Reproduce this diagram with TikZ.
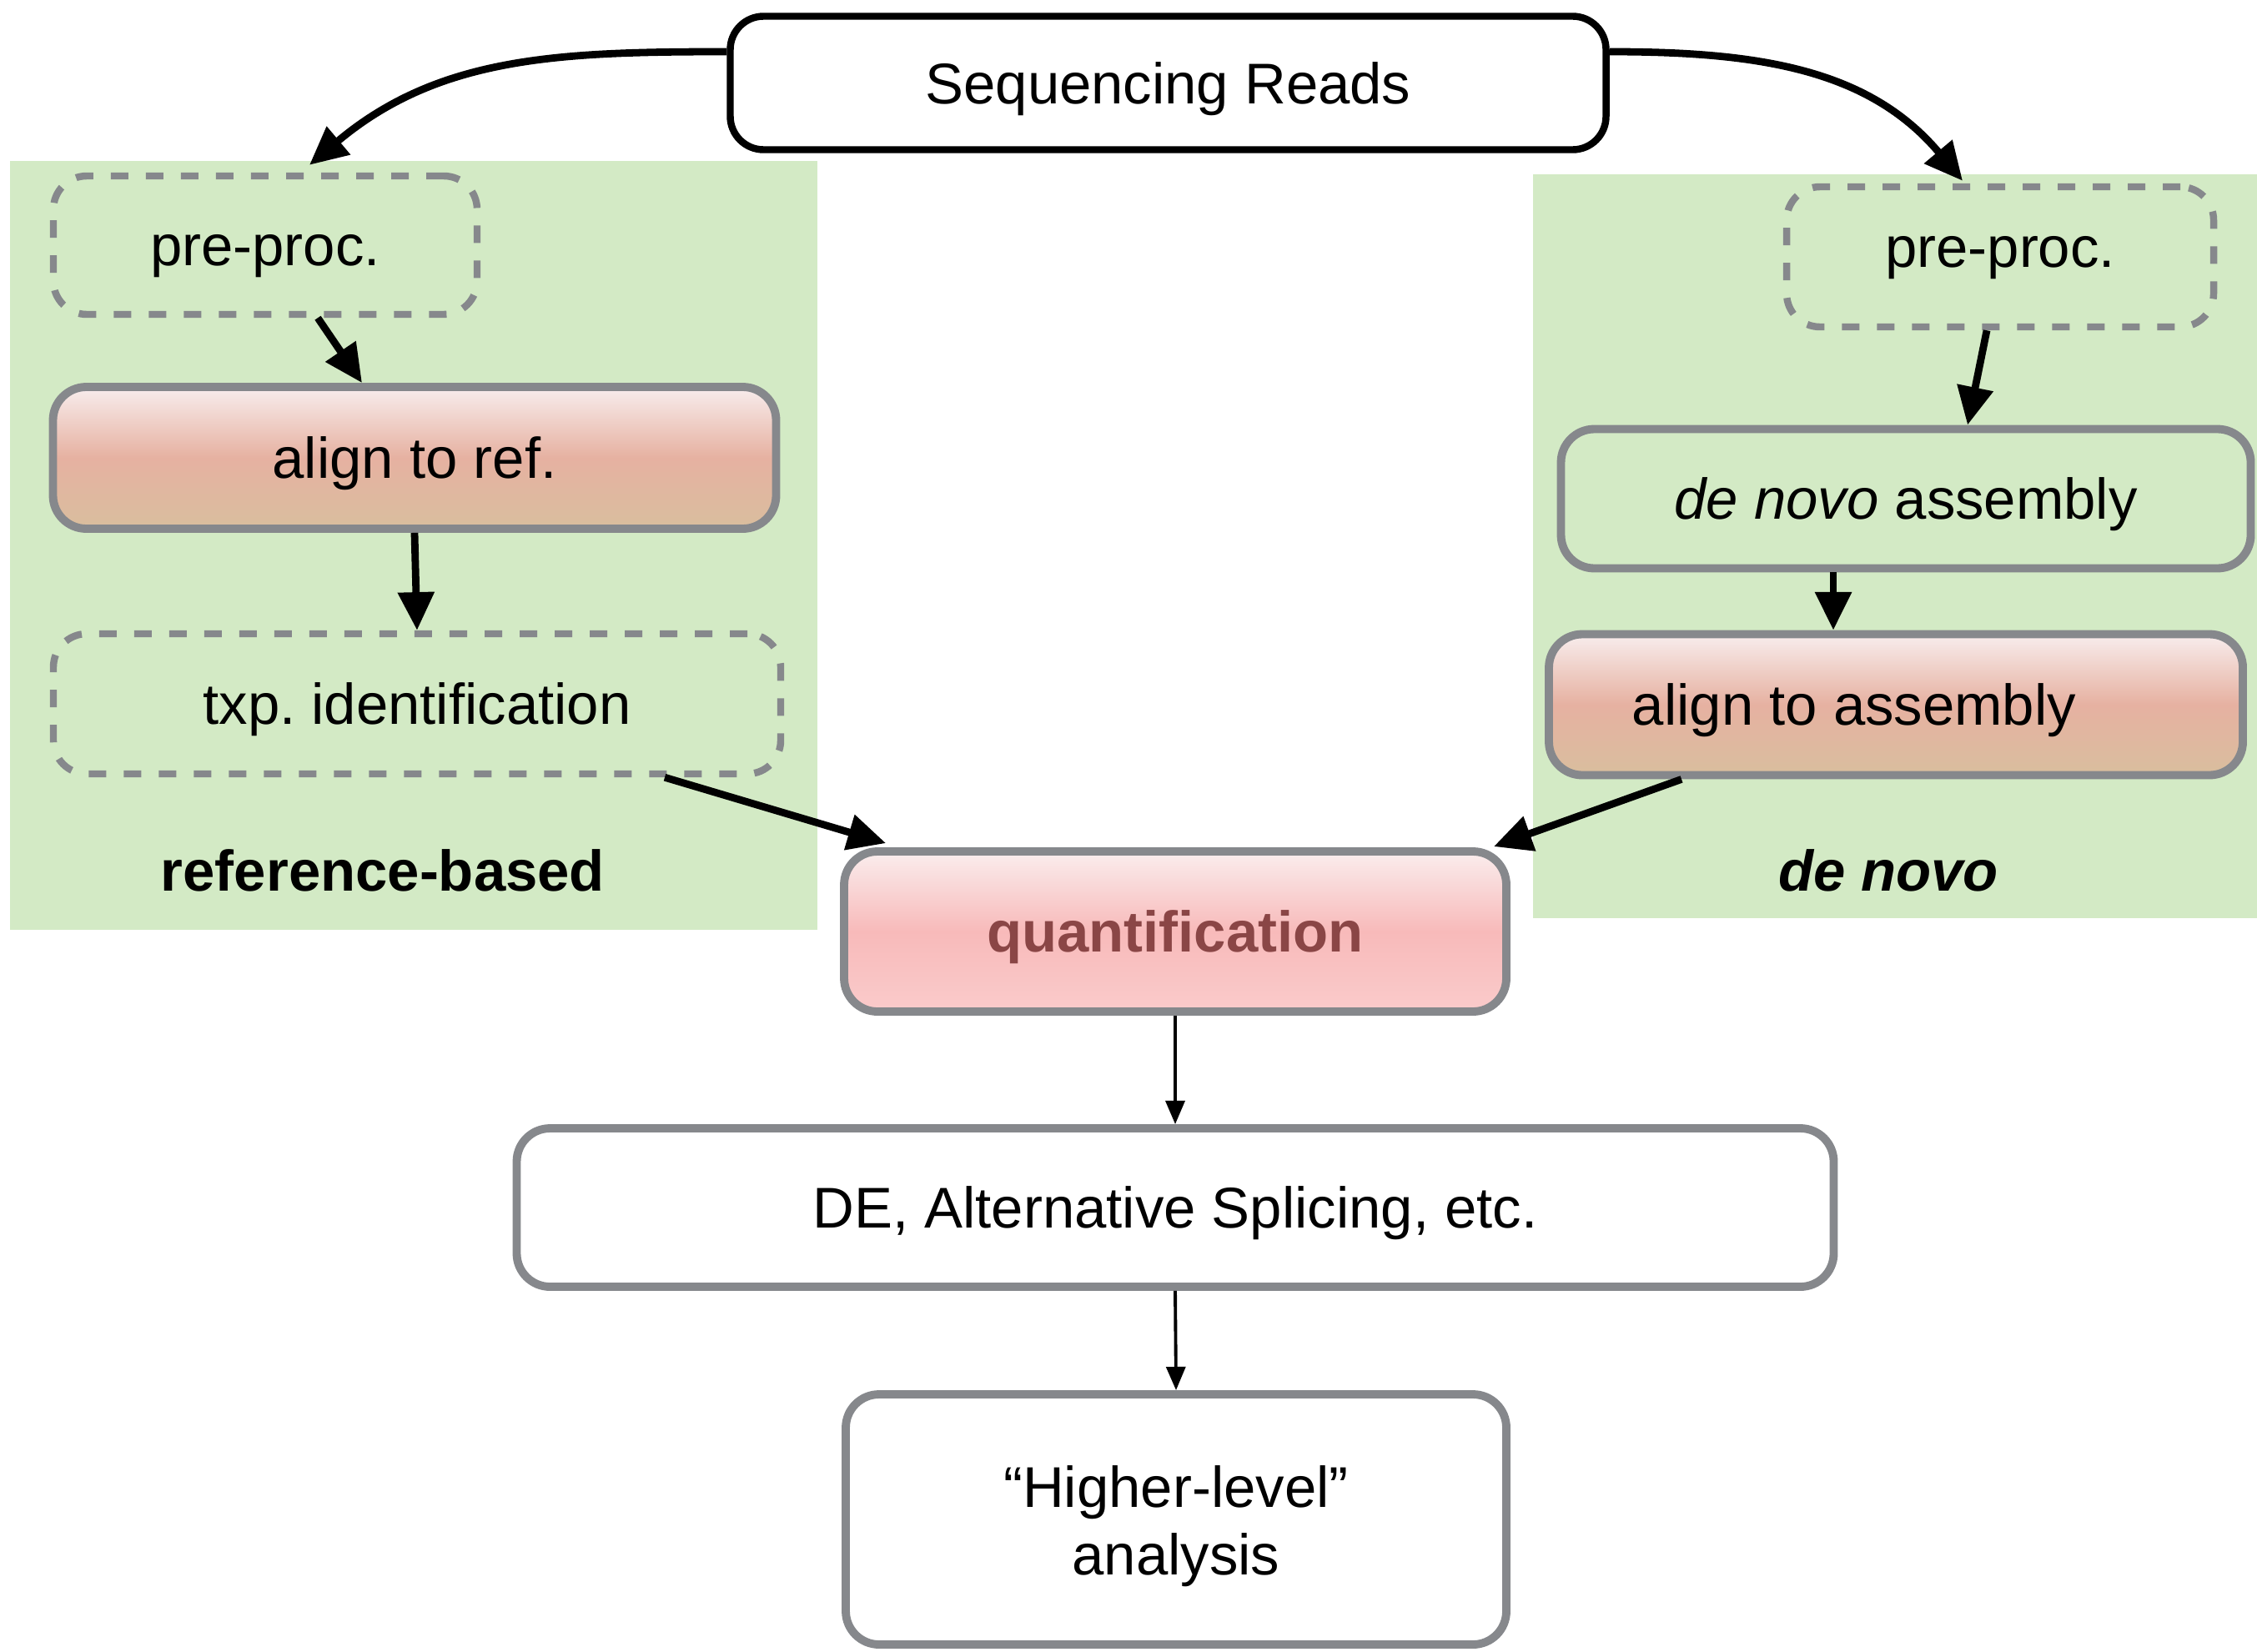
\documentclass[tikz,border=0pt]{standalone}
\usepackage{fontspec}
\setmainfont{Liberation Sans}
\frenchspacing
\usetikzlibrary{arrows.meta,calc}
\definecolor{panelgreen}{HTML}{D3EAC5}
\definecolor{boxgray}{HTML}{86888C}
\definecolor{alitop}{HTML}{F8EDED}
\definecolor{alimid}{HTML}{E6B1A1}
\definecolor{alibot}{HTML}{D9BE9E}
\definecolor{qtop}{HTML}{FAEDED}
\definecolor{qmid}{HTML}{F8BABA}
\definecolor{qbot}{HTML}{FACBCB}
\definecolor{qtext}{HTML}{8A4646}
\tikzset{
  txt/.style={font=\fontsize{19.6pt}{23pt}\selectfont, inner sep=0pt},
  boxtxt/.style={txt, text height=14pt, text depth=-1pt},
  blackbox/.style={boxtxt, draw=black, line width=2.4pt, rounded corners=0.4cm, fill=white},
  dashbox/.style={boxtxt, draw=boxgray, line width=2.4pt, rounded corners=0.4cm,
    dash pattern=on 0.21cm off 0.21cm},
  graybox/.style={boxtxt, draw=boxgray, line width=2.8pt, rounded corners=0.4cm},
  plainbox/.style={txt, draw=boxgray, line width=2.8pt, rounded corners=0.4cm},
  alibox/.style={graybox, top color=alitop, bottom color=alibot, middle color=alimid},
  qbox/.style={graybox, top color=qtop, bottom color=qbot, middle color=qmid},
  bigarrow/.style={line width=2.5pt, -{Triangle[length=13pt,width=12pt]}},
  thinarrow/.style={line width=1.1pt, -{Triangle[length=8pt,width=6.5pt]}},
  paneltitle/.style={txt, font=\fontsize{19.6pt}{23pt}\selectfont\bfseries}
}
\begin{document}
\begin{tikzpicture}
\path[use as bounding box] (0,0) rectangle (27.06,-19.80);
% panels
\fill[panelgreen] (0.12,-1.93) rectangle (9.80,-11.15);
\fill[panelgreen] (18.38,-2.09) rectangle (27.06,-11.01);

% nodes
\node[blackbox, minimum width=10.50cm, minimum height=1.60cm] (seq) at (14.005,-0.995) {Sequencing Reads};

\node[dashbox, minimum width=5.08cm, minimum height=1.66cm] (pl) at (3.18,-2.94) {pre-proc.};
\node[alibox, minimum width=8.67cm, minimum height=1.70cm] (ar) at (4.97,-5.49) {align to ref.};
\node[dashbox, minimum width=8.72cm, minimum height=1.68cm] (txp) at (5.00,-8.44) {txp. identification};
\node[paneltitle] (refl) at (4.59,-10.44) {reference-based};

\node[dashbox, text depth=7pt, minimum width=5.12cm, minimum height=1.68cm] (pr) at (23.98,-3.08) {pre-proc.};
\node[graybox, fill=panelgreen, minimum width=8.27cm, minimum height=1.67cm] (dn) at (22.85,-5.98) {\textit{de novo} assembly};
\node[alibox, minimum width=8.32cm, minimum height=1.69cm] (aa) at (22.73,-8.45) {align to assembly\hspace*{1.0cm}};
\node[paneltitle] (dnl) at (22.64,-10.44) {\textit{de novo}};

\node[qbox, minimum width=7.94cm, minimum height=1.92cm, text=qtext, font=\fontsize{19.6pt}{23pt}\selectfont\bfseries] (q) at (14.09,-11.17) {quantification};
\node[graybox, fill=white, minimum width=15.79cm, minimum height=1.90cm] (de) at (14.09,-14.48) {DE, Alternative Splicing, etc.};
\node[plainbox, fill=white, minimum width=7.92cm, minimum height=3.00cm] (hl) at (14.10,-18.22) {};
\node[txt, align=center] (hlt) at ([yshift=-0.08cm]hl.center) {“Higher-level”\\analysis};

% connectors
\draw[bigarrow] ([yshift=0.375cm]seq.west) to[out=180,in=40] ([xshift=0.53cm,yshift=0.09cm]pl.north);
\draw[bigarrow] ([yshift=0.375cm]seq.east) to[out=0,in=130] ([xshift=-0.45cm,yshift=0.03cm]pr.north);

\draw[bigarrow] ([xshift=0.63cm]pl.south) -- ([xshift=-0.63cm]ar.north);
\draw[bigarrow] (ar.south) -- (txp.north);
\draw[bigarrow] ([xshift=2.97cm]txp.south) -- ([shift={(0.55cm,0.05cm)}]q.north west);

\draw[bigarrow] ([xshift=-0.16cm]pr.south) -- ([xshift=0.74cm]dn.north);
\draw[bigarrow] ([xshift=-0.87cm]dn.south) -- ([xshift=-0.87cm]dn.south |- aa.north);
\draw[bigarrow] ([xshift=-2.57cm]aa.south) -- ([shift={(-0.20cm,0.01cm)}]q.north east);

\draw[thinarrow] (q.south) -- (de.north);
\draw[thinarrow] (de.south) -- (hl.north);
\end{tikzpicture}
\end{document}
